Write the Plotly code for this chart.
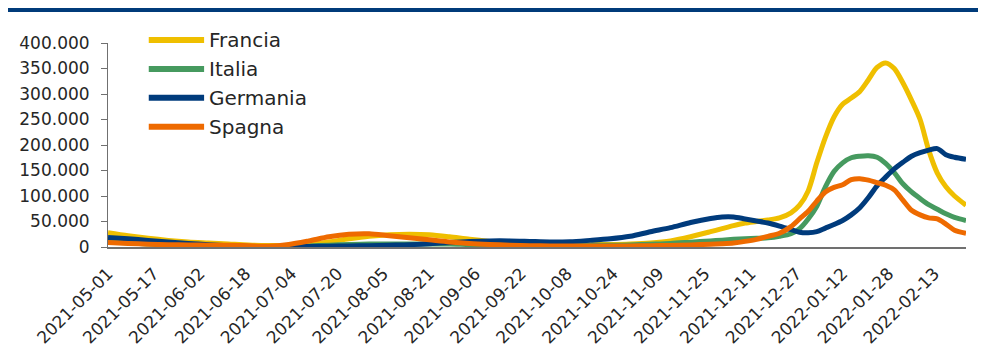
import plotly.graph_objects as go

dates = [
    "2021-05-01", "2021-05-08", "2021-05-15", "2021-05-22", "2021-05-29",
    "2021-06-05", "2021-06-12", "2021-06-19", "2021-06-26", "2021-07-03",
    "2021-07-10", "2021-07-17", "2021-07-24", "2021-07-31", "2021-08-07",
    "2021-08-14", "2021-08-21", "2021-08-28", "2021-09-04", "2021-09-11",
    "2021-09-18", "2021-09-25", "2021-10-02", "2021-10-09", "2021-10-16",
    "2021-10-23", "2021-10-30", "2021-11-06", "2021-11-13", "2021-11-20",
    "2021-11-27", "2021-12-01", "2021-12-05", "2021-12-09", "2021-12-13",
    "2021-12-17", "2021-12-21", "2021-12-25", "2021-12-28", "2021-12-31",
    "2022-01-03", "2022-01-06", "2022-01-09", "2022-01-12", "2022-01-15",
    "2022-01-18", "2022-01-21", "2022-01-24", "2022-01-27", "2022-01-30",
    "2022-02-02", "2022-02-05", "2022-02-08", "2022-02-11", "2022-02-14",
    "2022-02-17", "2022-02-20", "2022-02-24",
]

# values in thousands of daily cases (7-day average)
francia = [28, 22, 17, 13, 10, 8, 6, 4, 3, 3,
           5, 10, 16, 21, 24, 25, 24, 20, 15, 11,
           8, 6, 5, 4.5, 4.5, 5, 6, 8, 12, 20,
           30, 36, 42, 47, 50, 53, 57, 67, 82, 110,
           165, 215, 255, 280, 292, 305, 328, 352, 361, 350,
           322, 288, 250, 190, 145, 118, 100, 82]
italia = [10, 8.5, 6, 4, 3, 2, 1.5, 1, 1, 1,
          2, 3.5, 5, 6, 6, 6, 6, 6, 5, 4.5,
          4, 3.5, 3, 3, 3, 3.5, 4, 5.5, 7, 9.5,
          12, 13.5, 15, 16, 17, 18, 21, 26, 36, 55,
          80, 118, 148, 165, 175, 178, 179, 176, 164, 146,
          124, 108, 95, 83, 74, 65, 58, 52]
germania = [18.5, 16, 13, 10, 7, 4.5, 2.5, 1.2, 0.8, 0.7,
            1, 1.5, 2, 2.5, 3.5, 4.5, 6.5, 9, 11, 12,
            12, 11, 10, 10.5, 13, 16, 21, 30, 38, 48,
            56, 59, 59, 55, 51, 47, 41, 34, 29, 28,
            30, 37, 44, 52, 63, 77, 97, 120, 137, 153,
            166, 178, 185, 190, 193, 181, 176, 172]
spagna = [9, 7, 5.5, 4.5, 4, 3.5, 3.5, 2.5, 1.5, 5,
          12, 20, 25, 26, 22, 18, 14, 10, 7, 5,
          3.5, 2.5, 2, 1.8, 1.8, 2, 2, 2.5, 3, 4,
          5.5, 6.5, 8, 11, 15, 21, 27, 40, 55, 70,
          90, 108, 117, 122, 132, 134, 131, 126, 121, 112,
          92, 72, 63, 57, 55, 45, 33, 27]

series = [
    ("Francia", francia, "#EFBF00"),
    ("Italia", italia, "#469A5F"),
    ("Germania", germania, "#003B7C"),
    ("Spagna", spagna, "#EE6A00"),
]

y_ticks = [0, 50000, 100000, 150000, 200000, 250000, 300000, 350000, 400000]

FONT = "DejaVu Sans"

fig = go.Figure()
for name, vals, color in series:
    fig.add_trace(go.Scatter(
        x=dates, y=[v * 1000 for v in vals], name=name, mode="lines",
        line=dict(color=color, width=5, shape="spline", smoothing=0.8),
        showlegend=False,
    ))

# custom legend (style only, in paper coordinates)
leg_y = [1.0147, 0.8729, 0.7311, 0.5892]
for (name, vals, color), ly in zip(series, leg_y):
    fig.add_shape(type="line", xref="paper", yref="paper",
                  x0=0.0475, x1=0.112, y0=ly, y1=ly,
                  line=dict(color=color, width=6))
    fig.add_annotation(text=name, xref="paper", yref="paper",
                       x=0.115, y=ly, xanchor="left", yanchor="middle",
                       showarrow=False, font=dict(family=FONT, size=20, color="#262626"))

# top banner band
fig.add_shape(type="rect", xref="paper", yref="paper",
              x0=-0.2, x1=1.1, y0=1.152, y1=1.25,
              line=dict(width=0), fillcolor="#003B7A")

fig.update_layout(
    width=986, height=347,
    margin=dict(l=99.5, r=28, t=35, b=107.5, autoexpand=False),
    paper_bgcolor="white", plot_bgcolor="white",
    separators=",.",
    font=dict(family=FONT, size=17, color="#262626"),
    showlegend=False,
)
fig.update_xaxes(
    type="date", range=["2021-05-01", "2022-02-24"],
    tick0="2021-05-01", dtick=16 * 86400000, tickformat="%Y-%m-%d",
    tickangle=-45, showgrid=False, zeroline=False,
    showline=True, linecolor="#707070", linewidth=2, ticks="",
    ticklabelstandoff=8, automargin=False,
    tickfont=dict(family=FONT, size=17, color="#262626"),
)
fig.update_yaxes(
    range=[0, 400000], tickvals=y_ticks, tickformat=",d",
    showgrid=False, zeroline=False,
    showline=True, linecolor="#707070", linewidth=1,
    ticks="outside", ticklen=6, tickcolor="#707070",
    ticklabelstandoff=8, automargin=False,
    tickfont=dict(family=FONT, size=17, color="#262626"),
)

fig.write_html("out.html")
